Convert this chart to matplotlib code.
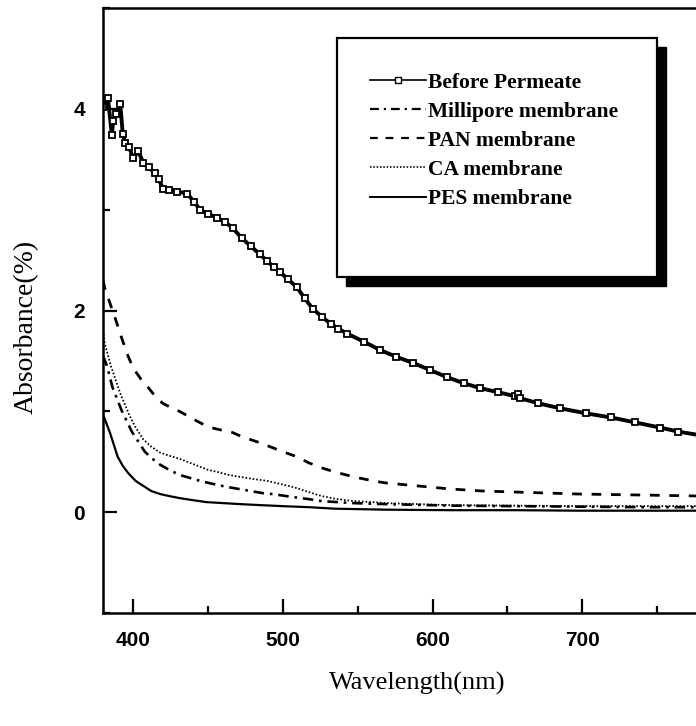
import matplotlib
matplotlib.use('Agg')
import matplotlib.pyplot as plt
from matplotlib.lines import Line2D
from matplotlib.patches import Rectangle
from matplotlib.ticker import FixedLocator

# Before permeate
wl_before = [380, 383.3, 385.9, 386.8, 388.9, 391.5, 393.2, 394.9, 397.5, 400.1, 403.6, 407.0,
             410.4, 414.8, 417.3, 419.9, 424.2, 429.4, 436.3, 440.6, 444.9, 450.1, 456.1,
             461.3, 466.5, 472.5, 478.5, 484.5, 489.7, 494.0, 498.3, 503.5, 509.5, 514.7,
             519.9, 525.9, 531.9, 537.1, 543.1, 554.3, 564.7, 575.9, 587.1, 598.3, 609.5,
             620.7, 631.8, 643.9, 655.1, 656.8, 658.5, 670.7, 685.3, 702.6, 719.0, 735.3,
             751.7, 763.7, 780]
abs_before = [4.02, 4.11, 3.74, 3.88, 3.95, 4.05, 3.75, 3.66, 3.62, 3.51, 3.58, 3.46,
              3.42, 3.36, 3.30, 3.21, 3.20, 3.18, 3.16, 3.08, 3.00, 2.96, 2.92,
              2.88, 2.82, 2.72, 2.64, 2.56, 2.49, 2.43, 2.38, 2.31, 2.23, 2.12,
              2.02, 1.94, 1.87, 1.82, 1.77, 1.69, 1.61, 1.54, 1.48, 1.41, 1.34,
              1.28, 1.23, 1.19, 1.15, 1.17, 1.13, 1.08, 1.03, 0.98, 0.94, 0.89,
              0.84, 0.80, 0.76]

# PAN membrane
wl_pan = [380, 381.2, 383.3, 388.0, 392.4, 396.7, 400.1, 405.3, 410.0, 414.8, 419.9, 425.1,
          431.1, 437.2, 443.2, 448.4, 454.4, 460.4, 466.5, 472.5, 478.5, 484.5, 489.7, 494.9,
          500.1, 509.5, 517.3, 525.9, 534.5, 547.5, 560.4, 569.0, 590.6, 612.2, 633.7, 655.2,
          698.3, 741.3, 780]
abs_pan = [2.30, 2.22, 2.13, 1.93, 1.73, 1.55, 1.43, 1.32, 1.24, 1.15, 1.08, 1.04,
           1.00, 0.95, 0.90, 0.86, 0.83, 0.81, 0.79, 0.75, 0.72, 0.69, 0.66, 0.63,
           0.60, 0.55, 0.49, 0.44, 0.40, 0.35, 0.31, 0.29, 0.26, 0.23, 0.21, 0.20,
           0.18, 0.17, 0.16]

# CA membrane
wl_ca = [380, 381.2, 385.5, 391.5, 398.0, 401.8, 407.0, 412.2, 418.2, 424.2, 431.1, 438.0,
         444.9, 450.1, 456.1, 463.9, 471.6, 480.2, 489.7, 498.3, 507.0, 517.3, 525.9, 536.3,
         547.5, 560.4, 569.0, 612.2, 655.2, 698.3, 741.3, 780]
abs_ca = [1.80, 1.67, 1.44, 1.18, 0.95, 0.84, 0.72, 0.65, 0.59, 0.56, 0.53, 0.49,
          0.45, 0.42, 0.40, 0.37, 0.35, 0.33, 0.31, 0.28, 0.25, 0.20, 0.16, 0.13,
          0.11, 0.10, 0.09, 0.07, 0.065, 0.06, 0.06, 0.06]

# Millipore membrane
wl_mil = [380, 382.9, 386.3, 392.4, 399.2, 403.6, 407.9, 413.0, 418.2, 424.2, 431.1, 438.0,
          444.9, 453.5, 463.0, 470.8, 478.5, 486.3, 493.2, 500.1, 507.0, 517.3, 525.9, 547.5,
          569.0, 612.2, 655.2, 698.3, 741.3, 780]
abs_mil = [1.55, 1.44, 1.24, 1.01, 0.80, 0.70, 0.60, 0.53, 0.47, 0.42, 0.37, 0.34,
           0.31, 0.28, 0.25, 0.23, 0.21, 0.19, 0.18, 0.165, 0.15, 0.13, 0.11, 0.09,
           0.08, 0.065, 0.06, 0.055, 0.05, 0.05]

# PES membrane
wl_pes = [380, 384.6, 389.8, 393.2, 396.7, 401.8, 407.0, 412.2, 418.2, 424.2, 431.1, 439.7,
          449.2, 460.4, 471.6, 485.4, 500.1, 517.3, 534.5, 551.7, 569.0, 612.2, 655.2, 698.3,
          741.3, 780]
abs_pes = [0.97, 0.79, 0.55, 0.46, 0.39, 0.31, 0.26, 0.21, 0.18, 0.16, 0.14, 0.12,
           0.10, 0.09, 0.08, 0.07, 0.06, 0.05, 0.035, 0.03, 0.025, 0.02, 0.02, 0.015,
           0.015, 0.015]

legend_labels = ['Before Permeate', 'Millipore membrane', 'PAN membrane', 'CA membrane', 'PES membrane']
x_major = [400, 500, 600, 700]
x_minor = [450, 550, 650, 750]

fig = plt.figure(figsize=(6.96, 7.26), dpi=100)
# the right part of the frame lies outside the picture, as in the scan
ax = fig.add_axes([0.148, 0.1556, 0.904, 0.8333])

ax.plot(wl_pes, abs_pes, color='k', lw=1.6, ls='-')
ax.plot(wl_ca, abs_ca, color='k', lw=1.3, ls=(0, (0.9, 1.1)))
ax.plot(wl_mil, abs_mil, color='k', lw=1.9, ls=(0, (4, 2.2, 1, 2.2)))
ax.plot(wl_pan, abs_pan, color='k', lw=2.0, ls=(0, (3.5, 3.5)))
ax.plot(wl_before, abs_before, color='k', lw=2.8, marker='s', ms=5,
        mfc='white', mec='k', mew=1.3)

ax.set_xlim(380, 800)
ax.set_ylim(-1, 5)
ax.xaxis.set_major_locator(FixedLocator(x_major))
ax.xaxis.set_minor_locator(FixedLocator(x_minor))
ax.set_yticks([0, 2, 4])
ax.set_yticks([-1, 1, 3, 5], minor=True)
ax.tick_params(which='both', direction='in', top=False, right=False, width=1.6)
ax.tick_params(which='major', length=10, pad=13)
ax.tick_params(which='minor', length=5)
for s in ax.spines.values():
    s.set_linewidth(1.8)
for lab in ax.get_xticklabels() + ax.get_yticklabels():
    lab.set_fontfamily('Liberation Sans')
    lab.set_fontweight('bold')
    lab.set_fontsize(15)

fig.text(0.599, 0.058, 'Wavelength(nm)', family='Liberation Serif', fontsize=19,
         ha='center', va='center')
fig.text(0.038, 0.55, 'Absorbance(%)', family='Liberation Serif', fontsize=20,
         ha='center', va='center', rotation=90)

# legend box with solid shadow
bx, by, bw, bh = 0.4842, 0.6185, 0.4598, 0.3292
fig.patches.append(Rectangle((bx + 0.0129, by - 0.0124), bw, bh, transform=fig.transFigure,
                             facecolor='k', edgecolor='k', zorder=3))
fig.patches.append(Rectangle((bx, by), bw, bh, transform=fig.transFigure,
                             facecolor='white', edgecolor='k', lw=1.6, zorder=4))

handles = [
    Line2D([], [], color='k', lw=1.2, marker='s', ms=4, mfc='white', mec='k', mew=1),
    Line2D([], [], color='k', lw=1.6, ls=(0, (4, 2.2, 1, 2.2))),
    Line2D([], [], color='k', lw=1.6, ls=(0, (3.5, 3.5))),
    Line2D([], [], color='k', lw=1.2, ls=(0, (0.9, 1.1))),
    Line2D([], [], color='k', lw=1.4, ls='-'),
]
leg = fig.legend(handles, legend_labels, loc='upper left', bbox_to_anchor=(0.5316, 0.900),
                 frameon=False, borderpad=0, borderaxespad=0, handlelength=2.6,
                 handletextpad=0.1, labelspacing=0.42, numpoints=1,
                 prop={'family': 'Liberation Serif', 'weight': 'bold', 'size': 15.5})
leg.set_zorder(5)

fig.savefig('out.png', dpi=100)
